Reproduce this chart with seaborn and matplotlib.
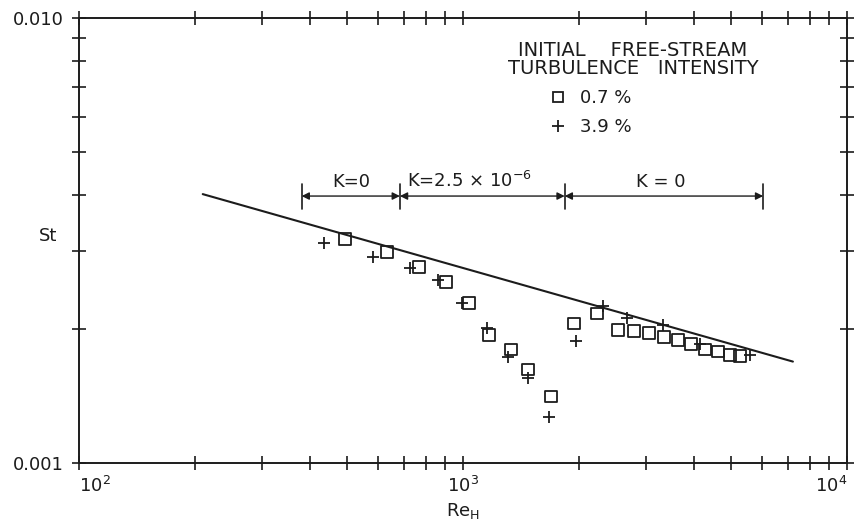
import matplotlib
matplotlib.use("Agg")
import matplotlib.pyplot as plt
import seaborn as sns
import pandas as pd
from matplotlib.lines import Line2D

# Stanton number vs. Reynolds number (enthalpy thickness), two free-stream turbulence levels
re_low_tu = [493, 634, 768, 903, 1036, 1169, 1334, 1477, 1696, 1946, 2234, 2533,
             2788, 3051, 3338, 3630, 3924, 4268, 4614, 4958, 5263]
st_low_tu = [0.00319, 0.00298, 0.00276, 0.00255, 0.00229, 0.00194, 0.00180, 0.00162,
             0.00141, 0.00206, 0.00217, 0.00199, 0.00198, 0.00196, 0.00192, 0.00189,
             0.00185, 0.00180, 0.00178, 0.00175, 0.00174]

re_high_tu = [435, 583, 728, 861, 994, 1155, 1310, 1477, 1675, 1969, 2315, 2674,
              3318, 4142, 5589]
st_high_tu = [0.00312, 0.00290, 0.00274, 0.00258, 0.00229, 0.00201, 0.00173, 0.00155,
              0.00127, 0.00188, 0.00225, 0.00212, 0.00204, 0.00185, 0.00175]

# reference correlation line (end points)
line_re = [210, 7230]
line_st = [0.00402, 0.00169]

# acceleration-parameter zones
k_bounds = [380, 685, 1840, 6050]
k_labels = ["K=0", "K=2.5 $\\times$ 10$^{-6}$", "K = 0"]

legend_title = ["INITIAL    FREE-STREAM", "TURBULENCE   INTENSITY"]
legend_labels = ["0.7 %", "3.9 %"]

x_major = [1e2, 1e3, 1e4]
x_major_labels = ["10$^2$", "10$^3$", "10$^4$"]
x_minor = [200, 300, 400, 500, 600, 700, 800, 900,
           2000, 3000, 4000, 5000, 6000, 7000, 8000, 9000]
y_major = [0.001, 0.010]
y_major_labels = ["0.001", "0.010"]
y_minor = [0.002, 0.003, 0.004, 0.005, 0.006, 0.007, 0.008, 0.009]

sns.set_theme(style="ticks")
ink = "#1c1c1c"
plt.rcParams.update({
    "font.family": ["DejaVu Sans"],
    "mathtext.fontset": "dejavusans",
    "text.color": ink,
    "axes.edgecolor": ink,
    "xtick.color": ink,
    "ytick.color": ink,
    "axes.labelcolor": ink,
})

W, H = 868, 530
fig = plt.figure(figsize=(W / 100, H / 100), dpi=100)
left, right, top, bottom = 79, 847, 18, 463
ax = fig.add_axes([left / W, 1 - bottom / H, (right - left) / W, (bottom - top) / H])

df_low = pd.DataFrame({"Re": re_low_tu, "St": st_low_tu})
df_high = pd.DataFrame({"Re": re_high_tu, "St": st_high_tu})
df_line = pd.DataFrame({"Re": line_re, "St": line_st})

sns.lineplot(data=df_line, x="Re", y="St", color=ink, linewidth=1.5, ax=ax)
sns.scatterplot(data=df_high, x="Re", y="St", marker="+", color=ink, s=75,
                linewidth=1.3, ax=ax, zorder=3)
sns.scatterplot(data=df_low, x="Re", y="St", marker="s", facecolor="none",
                edgecolor=ink, s=68, linewidth=1.3, ax=ax, zorder=4)

ax.set_xscale("log")
ax.set_yscale("log")
ax.set_xlim(1e2, 1e4)
ax.set_ylim(0.001, 0.010)

ax.set_xticks(x_major, labels=x_major_labels)
ax.set_xticks(x_minor, minor=True)
ax.set_xticklabels([], minor=True)
ax.set_yticks(y_major, labels=y_major_labels)
ax.set_yticks(y_minor, minor=True)
ax.set_yticklabels([], minor=True)
ax.tick_params(which="both", direction="inout", length=10, width=1.2,
               top=True, right=True, labelsize=13)
ax.tick_params(axis="x", which="major", pad=4)
ax.tick_params(axis="y", which="major", pad=6)
for lab, ha in zip(ax.get_xticklabels(), ["left", "center", "right"]):
    lab.set_horizontalalignment(ha)

for s in ax.spines.values():
    s.set_linewidth(1.4)

ax.set_xlabel("Re$_{\\rm H}$", fontsize=13, labelpad=4)
ax.set_ylabel("St", fontsize=13, rotation=0, va="center", ha="center")
ax.yaxis.set_label_coords(-0.04, 0.51)

# zone brackets with double-headed arrows
y_arrow, y_lo, y_hi = 0.00398, 0.00373, 0.00424
for xb in k_bounds:
    ax.plot([xb, xb], [y_lo, y_hi], color=ink, linewidth=1.2)
for x0, x1 in zip(k_bounds[:-1], k_bounds[1:]):
    ax.annotate("", xy=(x1, y_arrow), xytext=(x0, y_arrow),
                arrowprops=dict(arrowstyle="<|-|>", color=ink, lw=1.0,
                                mutation_scale=11, shrinkA=0, shrinkB=0))
ax.text(511, 0.00417, k_labels[0], ha="center", va="baseline", fontsize=13)
ax.text(715, 0.00417, k_labels[1], ha="left", va="baseline", fontsize=13)
ax.text(3281, 0.00417, k_labels[2], ha="center", va="baseline", fontsize=13)

# legend
fig.text(633 / W, 1 - 50 / H, legend_title[0], ha="center", va="center", fontsize=14)
fig.text(633 / W, 1 - 69 / H, legend_title[1], ha="center", va="center", fontsize=14)
handles = [
    Line2D([], [], marker="s", ls="none", mfc="none", mec=ink, ms=7, mew=1.3),
    Line2D([], [], marker="+", ls="none", color=ink, ms=9, mew=1.3),
]
ax.legend(handles, legend_labels, loc="upper left",
          bbox_to_anchor=(548.7 / W, 1 - 89 / H), bbox_transform=fig.transFigure,
          frameon=False, borderpad=0, borderaxespad=0, handlelength=1.0,
          handletextpad=0.76, labelspacing=0.62, fontsize=13)

fig.savefig("out.png", dpi=100)
